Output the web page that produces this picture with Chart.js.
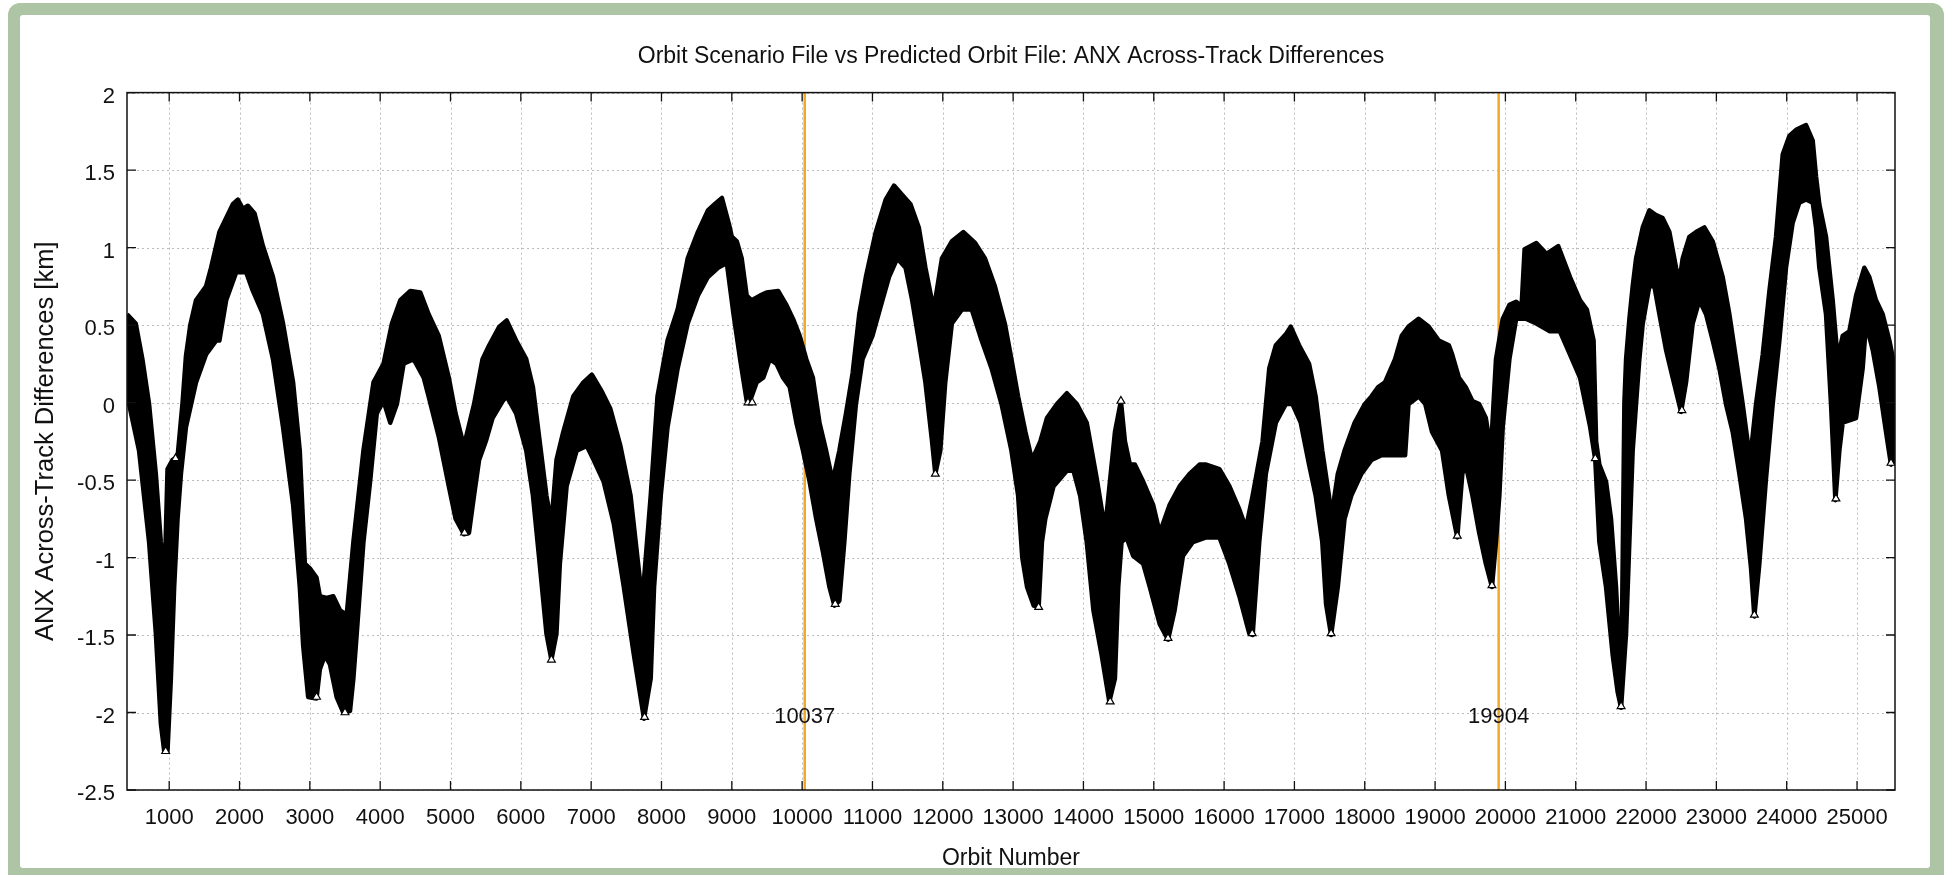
<!DOCTYPE html>
<html><head><meta charset="utf-8">
<script src="https://cdn.jsdelivr.net/npm/chart.js"></script>
<style>
html,body{margin:0;padding:0;width:1945px;height:875px;overflow:hidden;background:#fff;}
#frame{position:absolute;left:8px;top:3px;width:1936px;height:900px;background:#adc5a5;border-radius:12px;}
#panel{position:absolute;left:20px;top:15px;width:1910px;height:853px;background:#fff;border-radius:3px;}
#c{position:absolute;left:0;top:0;}
</style></head><body>
<div id="frame"></div><div id="panel"></div>
<canvas id="c" width="1945" height="875"></canvas>
<script>
// upper envelope of the point cloud (orbit number, km)
const upperOrbit=[400,524,619,714,810,881,905,940,976,1048,1119,1190,1238,1300,1381,1524,1595,1714,1905,1976,2048,2119,2214,2333,2476,2619,2762,2857,2929,3000,3095,3143,3238,3333,3429,3524,3619,3762,3905,4048,4167,4286,4429,4571,4689,4833,4976,5072,5191,5335,5455,5550,5694,5799,5933,6077,6172,6268,6364,6435,6507,6603,6746,6890,7010,7153,7273,7416,7560,7727,7847,7943,8086,8230,8373,8517,8660,8756,8860,8960,9000,9071,9141,9212,9282,9400,9494,9659,9776,9871,9965,10059,10153,10247,10341,10435,10529,10624,10718,10812,10906,11047,11188,11306,11424,11541,11659,11753,11871,11988,12129,12294,12459,12600,12741,12882,12976,13071,13175,13269,13387,13481,13623,13764,13906,14047,14189,14307,14448,14533,14590,14660,14731,14849,14991,15085,15226,15368,15509,15651,15745,15934,16075,16217,16311,16406,16547,16642,16736,16877,16948,17066,17208,17302,17396,17491,17522,17617,17713,17856,18000,18096,18191,18287,18431,18526,18622,18766,18909,19053,19196,19244,19340,19435,19531,19627,19722,19794,19866,19962,20057,20153,20230,20273,20440,20584,20751,20919,21062,21158,21254,21290,21336,21431,21502,21573,21621,21645,21692,21716,21763,21810,21858,21953,22047,22142,22237,22332,22427,22474,22521,22616,22711,22829,22948,23090,23185,23280,23374,23479,23564,23659,23754,23848,23943,24038,24133,24275,24370,24417,24464,24559,24654,24725,24796,24891,24986,25104,25175,25270,25365,25460,25540];
const upperKm=[0.57,0.51,0.28,-0.01,-0.46,-0.90,-1.01,-1.05,-0.43,-0.37,-0.35,0.00,0.30,0.50,0.66,0.75,0.87,1.10,1.28,1.31,1.25,1.27,1.22,1.01,0.81,0.51,0.13,-0.31,-1.04,-1.07,-1.13,-1.25,-1.26,-1.25,-1.34,-1.37,-0.90,-0.31,0.13,0.25,0.51,0.66,0.72,0.71,0.57,0.43,0.16,-0.07,-0.28,-0.01,0.28,0.37,0.49,0.53,0.40,0.28,0.10,-0.25,-0.60,-0.78,-0.37,-0.19,0.04,0.13,0.18,0.07,-0.04,-0.28,-0.60,-1.28,-0.60,0.04,0.40,0.60,0.93,1.10,1.24,1.28,1.32,1.15,1.07,1.04,0.93,0.69,0.66,0.69,0.71,0.72,0.63,0.54,0.43,0.28,0.16,-0.13,-0.31,-0.51,-0.31,-0.07,0.19,0.57,0.81,1.10,1.31,1.40,1.34,1.28,1.13,0.87,0.60,0.93,1.04,1.10,1.03,0.93,0.75,0.51,0.28,0.04,-0.19,-0.37,-0.25,-0.10,-0.01,0.06,-0.01,-0.13,-0.49,-0.82,-0.19,0.01,-0.25,-0.40,-0.40,-0.51,-0.66,-0.84,-0.66,-0.54,-0.46,-0.40,-0.40,-0.43,-0.54,-0.69,-0.81,-0.60,-0.25,0.22,0.37,0.44,0.49,0.37,0.25,0.04,-0.31,-0.60,-0.75,-0.46,-0.31,-0.13,-0.01,0.04,0.10,0.13,0.28,0.43,0.49,0.54,0.49,0.40,0.37,0.31,0.16,0.10,0.01,-0.01,-0.10,-0.31,0.28,0.54,0.63,0.65,0.62,0.99,1.03,0.96,1.01,0.81,0.66,0.60,0.40,-0.25,-0.40,-0.51,-0.75,-1.19,-1.63,-1.96,0.00,0.28,0.54,0.75,0.93,1.13,1.24,1.21,1.19,1.10,0.87,0.78,0.93,1.07,1.10,1.13,1.04,0.81,0.57,0.28,-0.01,-0.37,-0.01,0.31,0.72,1.07,1.60,1.72,1.76,1.79,1.69,1.46,1.28,1.07,0.66,0.28,0.43,0.46,0.69,0.87,0.81,0.66,0.57,0.40,0.22];
// lower envelope of the point cloud
const lowerOrbit=[400,429,571,714,810,881,929,976,1024,1071,1119,1167,1238,1381,1524,1667,1714,1810,1952,2095,2190,2333,2476,2619,2762,2857,2905,2976,3095,3143,3214,3286,3381,3476,3571,3619,3667,3762,3857,3952,4048,4143,4238,4333,4476,4619,4689,4833,4976,5072,5191,5263,5335,5407,5502,5598,5742,5799,5933,6077,6172,6268,6364,6435,6507,6555,6651,6794,6938,7034,7177,7321,7464,7608,7751,7847,7895,7990,8086,8230,8373,8517,8660,8804,8929,9024,9118,9212,9259,9353,9447,9541,9635,9729,9824,9918,10012,10106,10200,10294,10388,10459,10529,10600,10671,10765,10859,11000,11141,11235,11353,11471,11565,11659,11753,11847,11894,11965,12035,12129,12271,12412,12553,12694,12835,12976,13071,13130,13198,13292,13363,13410,13458,13575,13670,13764,13858,13953,14047,14142,14259,14368,14448,14495,14542,14613,14708,14849,14943,15085,15203,15297,15415,15557,15745,15934,16075,16217,16358,16406,16500,16594,16736,16877,16972,17090,17208,17302,17396,17450,17522,17617,17713,17809,17952,18096,18239,18431,18574,18622,18766,18861,18957,19100,19196,19316,19388,19435,19531,19627,19722,19809,19866,19914,19962,20057,20153,20297,20440,20632,20775,20919,21062,21206,21278,21336,21431,21526,21597,21645,21716,21763,21810,21858,21905,21953,22047,22118,22190,22284,22379,22498,22569,22663,22758,22853,22948,23043,23137,23232,23327,23422,23493,23540,23611,23706,23801,23896,23990,24085,24180,24275,24370,24417,24464,24559,24630,24692,24749,24796,24986,25080,25128,25223,25318,25412,25483,25540];
const lowerKm=[0.16,-0.01,-0.31,-0.90,-1.49,-2.07,-2.25,-2.25,-1.78,-1.19,-0.75,-0.46,-0.16,0.13,0.31,0.40,0.40,0.66,0.84,0.84,0.72,0.57,0.28,-0.16,-0.66,-1.19,-1.57,-1.90,-1.91,-1.72,-1.63,-1.69,-1.90,-2.00,-1.99,-1.78,-1.49,-0.90,-0.51,-0.07,0.01,-0.13,-0.01,0.25,0.28,0.16,0.04,-0.22,-0.54,-0.75,-0.85,-0.84,-0.60,-0.37,-0.25,-0.10,0.01,0.04,-0.07,-0.31,-0.60,-1.04,-1.49,-1.66,-1.49,-1.04,-0.54,-0.31,-0.28,-0.37,-0.51,-0.78,-1.19,-1.63,-2.04,-1.78,-1.19,-0.60,-0.16,0.22,0.51,0.69,0.81,0.87,0.90,0.57,0.28,0.01,0.01,0.13,0.16,0.28,0.25,0.16,0.10,-0.13,-0.31,-0.51,-0.75,-0.96,-1.19,-1.31,-1.28,-0.90,-0.46,-0.01,0.28,0.43,0.66,0.81,0.93,0.87,0.66,0.40,0.13,-0.25,-0.46,-0.31,0.13,0.51,0.60,0.60,0.40,0.22,-0.01,-0.31,-0.60,-1.00,-1.19,-1.31,-1.32,-0.90,-0.75,-0.54,-0.49,-0.44,-0.44,-0.60,-0.90,-1.34,-1.63,-1.93,-1.78,-1.19,-0.90,-0.87,-0.99,-1.04,-1.19,-1.43,-1.53,-1.34,-0.99,-0.90,-0.87,-0.87,-1.04,-1.25,-1.49,-1.50,-0.90,-0.46,-0.13,-0.01,-0.01,-0.13,-0.40,-0.60,-0.90,-1.30,-1.50,-1.19,-0.75,-0.60,-0.46,-0.37,-0.34,-0.34,-0.34,-0.01,0.04,-0.01,-0.19,-0.31,-0.60,-0.87,-0.46,-0.40,-0.60,-0.84,-1.04,-1.19,-0.90,-0.60,-0.16,0.28,0.54,0.54,0.51,0.46,0.46,0.31,0.16,-0.16,-0.37,-0.90,-1.19,-1.63,-1.87,-1.97,-1.49,-0.90,-0.31,-0.01,0.28,0.51,0.75,0.75,0.57,0.34,0.16,-0.06,0.13,0.51,0.66,0.57,0.40,0.22,-0.01,-0.19,-0.46,-0.75,-1.07,-1.38,-1.04,-0.49,-0.01,0.40,0.87,1.16,1.29,1.31,1.29,1.13,0.87,0.57,-0.01,-0.63,-0.31,-0.13,-0.10,0.22,0.51,0.34,0.10,-0.19,-0.40,-0.37];
// isolated hollow markers visible at the extremes
const markOrbit=[950,1090,3095,3500,5200,6435,7760,9230,9290,10470,11894,13363,14380,14533,15203,16400,17522,19316,19809,21278,21645,22510,23540,24700,25483];
const markKm=[-2.25,-0.36,-1.90,-2.00,-0.84,-1.66,-2.03,0.00,0.00,-1.30,-0.46,-1.32,-1.93,0.01,-1.52,-1.49,-1.49,-0.86,-1.18,-0.36,-1.96,-0.05,-1.37,-0.62,-0.39];
// reference orbits (vertical lines)
const refOrbits=[10037,19904];
const refLabels=['10037','19904'];
const xTicks=[1000,2000,3000,4000,5000,6000,7000,8000,9000,10000,11000,12000,13000,14000,15000,16000,17000,18000,19000,20000,21000,22000,23000,24000,25000];
const yTicks=[-2.5,-2,-1.5,-1,-0.5,0,0.5,1,1.5,2];

const FONT="'Liberation Sans', Arial, Helvetica, sans-serif";
Chart.defaults.font.family=FONT;
Chart.defaults.color='#111';

const bandPts=upperOrbit.map((o,i)=>({x:o,y:upperKm[i]}))
  .concat(lowerOrbit.map((o,i)=>({x:o,y:lowerKm[i]})).reverse());
const markPts=markOrbit.map((o,i)=>({x:o,y:markKm[i]}));

const datasets=[
  {label:'band',data:bandPts,borderColor:'#000',backgroundColor:'#000',fill:'shape',borderWidth:4.5,borderJoinStyle:'round',pointRadius:0,tension:0,order:1},
  {label:'marks',data:markPts,showLine:false,pointStyle:'triangle',pointRadius:4.5,pointBackgroundColor:'#fff',pointBorderColor:'#000',pointBorderWidth:1.2,order:0}
];
refOrbits.forEach(o=>datasets.push({label:'ref'+o,data:[{x:o,y:-2.5},{x:o,y:2}],borderColor:'#f2a62a',borderWidth:2.5,pointRadius:0,fill:false,order:2}));

const frame={
  id:'frame',
  beforeDatasetsDraw(chart){
    const {ctx,chartArea:a,scales:{x,y}}=chart;
    ctx.save();
    ctx.strokeStyle='#bcbcbc';ctx.lineWidth=1;ctx.setLineDash([2,3]);
    xTicks.forEach(v=>{const p=Math.round(x.getPixelForValue(v))+0.5;ctx.beginPath();ctx.moveTo(p,a.top);ctx.lineTo(p,a.bottom);ctx.stroke();});
    yTicks.forEach(v=>{const p=Math.round(y.getPixelForValue(v))+0.5;ctx.beginPath();ctx.moveTo(a.left,p);ctx.lineTo(a.right,p);ctx.stroke();});
    ctx.restore();
  },
  afterDatasetsDraw(chart){
    const {ctx,chartArea:a,scales:{x,y}}=chart;
    ctx.save();
    ctx.strokeStyle='#111';ctx.lineWidth=1.5;
    ctx.strokeRect(a.left,a.top,a.right-a.left,a.bottom-a.top);
    const L=9;
    ctx.lineWidth=1.3;
    xTicks.forEach(v=>{const p=x.getPixelForValue(v);ctx.beginPath();ctx.moveTo(p,a.bottom);ctx.lineTo(p,a.bottom-L);ctx.moveTo(p,a.top);ctx.lineTo(p,a.top+L);ctx.stroke();});
    yTicks.forEach(v=>{const p=y.getPixelForValue(v);ctx.beginPath();ctx.moveTo(a.left,p);ctx.lineTo(a.left+L,p);ctx.moveTo(a.right,p);ctx.lineTo(a.right-L,p);ctx.stroke();});
    ctx.fillStyle='#111';ctx.font='22px '+FONT;ctx.textAlign='center';ctx.textBaseline='middle';
    refOrbits.forEach((o,i)=>ctx.fillText(refLabels[i],x.getPixelForValue(o),y.getPixelForValue(-2.03)));
    ctx.restore();
  }
};

new Chart(document.getElementById('c'),{
  type:'line',
  data:{datasets},
  options:{
    responsive:false,animation:false,
    layout:{padding:{left:0,right:50,top:0,bottom:0}},
    plugins:{
      legend:{display:false},tooltip:{enabled:false},
      title:{display:true,fullSize:false,text:'Orbit Scenario File vs Predicted Orbit File: ANX Across-Track Differences',
        font:{size:23,weight:'normal'},color:'#111',padding:{top:43,bottom:22}}
    },
    scales:{
      x:{type:'linear',min:400,max:25540,
        afterBuildTicks:s=>{s.ticks=xTicks.map(v=>({value:v}));},
        afterFit:s=>{s.height=85;},
        grid:{display:false,drawTicks:false},border:{display:false},
        ticks:{font:{size:22},color:'#111',padding:15,maxRotation:0,autoSkip:false,callback:v=>String(v)},
        title:{display:true,text:'Orbit Number',font:{size:23},color:'#111',padding:{top:0,bottom:3}}
      },
      y:{type:'linear',min:-2.5,max:2,
        afterBuildTicks:s=>{s.ticks=yTicks.map(v=>({value:v}));},
        afterFit:s=>{s.width=127;},
        grid:{display:false,drawTicks:false},border:{display:false},
        ticks:{font:{size:22},color:'#111',padding:12,labelOffset:4,callback:v=>String(v)},
        title:{display:true,text:'ANX Across-Track Differences [km]',font:{size:25.5},color:'#111',padding:{top:31,bottom:0}}
      }
    }
  },
  plugins:[frame]
});
</script>
</body></html>
